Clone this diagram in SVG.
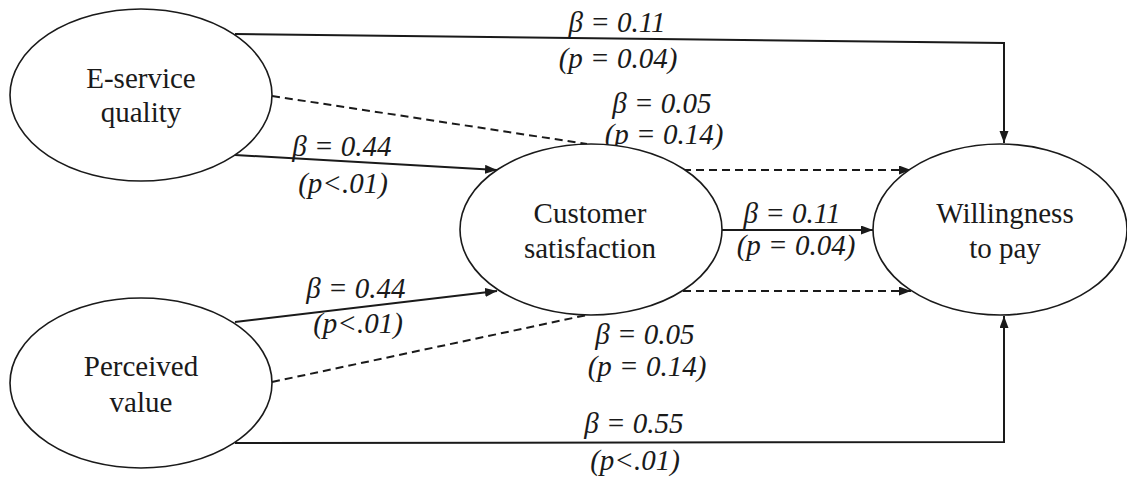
<svg xmlns="http://www.w3.org/2000/svg" width="1127" height="478" viewBox="0 0 1127 478">
<defs>
<style>
.node{fill:#fff;stroke:#1a1a1a;stroke-width:1.6}
.nt{font-family:'Liberation Serif','Times New Roman','DejaVu Serif',serif;font-size:29px;fill:#1a1a1a;text-anchor:middle}
.lb{font-family:'Liberation Serif','Times New Roman','DejaVu Serif',serif;font-size:29px;font-style:italic;fill:#1a1a1a;text-anchor:middle}
.solid{fill:none;stroke:#1a1a1a;stroke-width:2}
.dash{fill:none;stroke:#1a1a1a;stroke-width:2;stroke-dasharray:8 5}
</style>
<marker id="arr" markerUnits="userSpaceOnUse" markerWidth="13" markerHeight="10" refX="12" refY="4.5" orient="auto">
<path d="M0,0 L12,4.5 L0,9 z" fill="#1a1a1a"/>
</marker>
</defs>
<rect width="1127" height="478" fill="#fff"/>
<g id="connectors">
<polyline class="solid" points="235,34 1004,43 1004,143" marker-end="url(#arr)"/>
<polyline class="solid" points="235,443 1004,442 1004,316" marker-end="url(#arr)"/>
<line class="dash" x1="272" y1="96" x2="587" y2="144"/>
<line class="solid" x1="235" y1="155" x2="497" y2="170" marker-end="url(#arr)"/>
<line class="solid" x1="235" y1="322" x2="497" y2="291" marker-end="url(#arr)"/>
<line class="dash" x1="272" y1="382" x2="587" y2="315"/>
<line class="dash" x1="683" y1="170" x2="911" y2="170" marker-end="url(#arr)"/>
<line class="solid" x1="722" y1="230" x2="873" y2="230" marker-end="url(#arr)"/>
<line class="dash" x1="683" y1="291" x2="911" y2="291" marker-end="url(#arr)"/>
</g>
<g id="labels" font-family="Liberation Serif, serif">
<text class="lb" x="617" y="32">β = 0.11</text>
<text class="lb" x="618" y="68">(p = 0.04)</text>
<text class="lb" x="342" y="156">β = 0.44</text>
<text class="lb" x="343" y="193">(p&lt;.01)</text>
<text class="lb" x="662" y="113">β = 0.05</text>
<text class="lb" x="664" y="144">(p = 0.14)</text>
<text class="lb" x="792" y="223">β = 0.11</text>
<text class="lb" x="796" y="255">(p = 0.04)</text>
<text class="lb" x="356" y="298">β = 0.44</text>
<text class="lb" x="358" y="333">(p&lt;.01)</text>
<text class="lb" x="645" y="344">β = 0.05</text>
<text class="lb" x="647" y="376">(p = 0.14)</text>
<text class="lb" x="634" y="433">β = 0.55</text>
<text class="lb" x="635" y="470">(p&lt;.01)</text>
</g>
<g id="node-eservice">
<ellipse class="node" cx="141" cy="95" rx="131" ry="86"/>
<text class="nt" x="141" y="88">E-service</text>
<text class="nt" x="141" y="122">quality</text>
</g>
<g id="node-perceived">
<ellipse class="node" cx="141" cy="383" rx="131" ry="85"/>
<text class="nt" x="141" y="376">Perceived</text>
<text class="nt" x="141" y="412">value</text>
</g>
<g id="node-satisfaction">
<ellipse class="node" cx="591" cy="229.5" rx="131" ry="85.5"/>
<text class="nt" x="590" y="223">Customer</text>
<text class="nt" x="590" y="258">satisfaction</text>
</g>
<g id="node-wtp">
<ellipse class="node" cx="1000" cy="229.5" rx="127" ry="85.5"/>
<text class="nt" x="1005" y="223">Willingness</text>
<text class="nt" x="1005" y="258">to pay</text>
</g>
</svg>
